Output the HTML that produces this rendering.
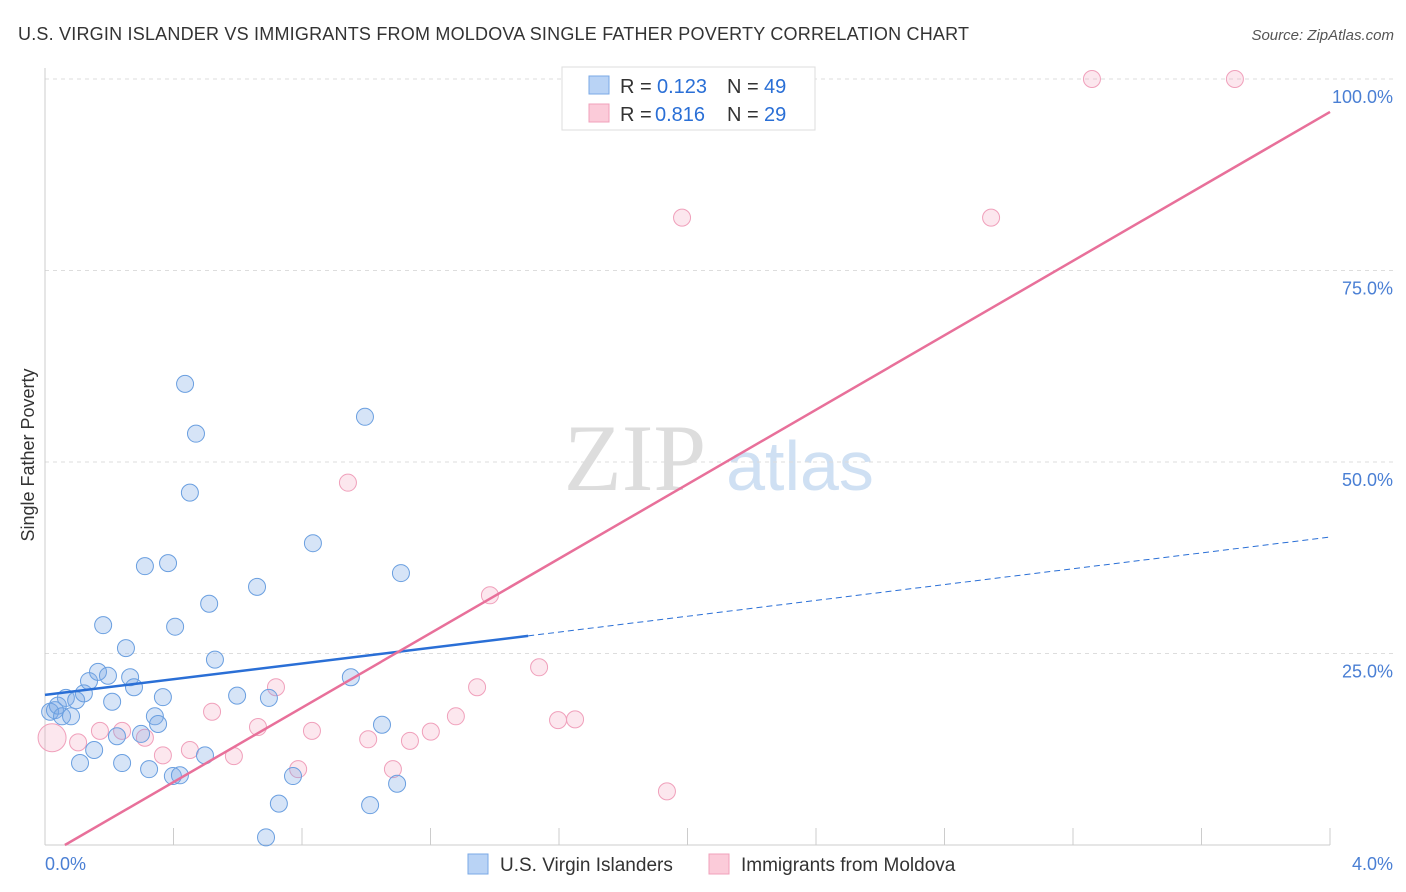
<!DOCTYPE html>
<html><head><meta charset="utf-8"><style>
body{margin:0;background:#fff;font-family:"Liberation Sans",sans-serif;}
svg{display:block}
</style></head><body>
<svg id="chart" width="1406" height="892">
<text x="18" y="40" font-size="18" fill="#333" textLength="951">U.S. VIRGIN ISLANDER VS IMMIGRANTS FROM MOLDOVA SINGLE FATHER POVERTY CORRELATION CHART</text>
<text x="1394" y="40" font-size="15" fill="#555" font-style="italic" text-anchor="end">Source: ZipAtlas.com</text>
<text x="34" y="455" font-size="18" fill="#333" text-anchor="middle" transform="rotate(-90 34 455)">Single Father Poverty</text>
<g><text x="635" y="490" font-size="95" fill="#ddd" font-family="Liberation Serif,serif" text-anchor="middle">ZIP</text><text x="800" y="490" font-size="70" fill="#cfe0f3" text-anchor="middle">atlas</text></g>
<g id="grid"></g><g id="marks"></g>
<g>
<rect x="562" y="67" width="253" height="63" fill="#fff" stroke="#ddd"/>
<rect x="589" y="76" width="20" height="18" fill="#b9d3f5" stroke="#7aa8e6"/>
<rect x="589" y="104" width="20" height="18" fill="#fbcbd9" stroke="#f0a0bb"/>
<text y="93" font-size="20" fill="#333"><tspan x="620">R =</tspan><tspan x="657" fill="#2a6fd6">0.123</tspan><tspan x="727">N =</tspan><tspan x="764" fill="#2a6fd6">49</tspan></text>
<text y="121" font-size="20" fill="#333"><tspan x="620">R =</tspan><tspan x="655" fill="#2a6fd6">0.816</tspan><tspan x="727">N =</tspan><tspan x="764" fill="#2a6fd6">29</tspan></text>
</g>
<g>
<rect x="468" y="854" width="20" height="20" fill="#b9d3f5" stroke="#7aa8e6"/>
<text x="500" y="871" font-size="19" fill="#333">U.S. Virgin Islanders</text>
<rect x="709" y="854" width="20" height="20" fill="#fbcbd9" stroke="#f0a0bb"/>
<text x="741" y="871" font-size="19" fill="#333">Immigrants from Moldova</text>
</g>
</svg>
<script>
const blueX=[0.016,0.031,0.040,0.053,0.065,0.081,0.097,0.109,0.121,0.137,0.153,0.165,0.181,0.196,0.209,0.224,0.240,0.252,0.265,0.277,0.299,0.311,0.324,0.342,0.352,0.367,0.383,0.398,0.405,0.420,0.436,0.451,0.470,0.498,0.511,0.529,0.598,0.660,0.688,0.697,0.728,0.772,0.834,0.952,0.996,1.012,1.049,1.096,1.108];
const blueY=[17.4,17.6,18.2,16.8,19.2,16.8,18.9,10.7,19.8,21.4,12.4,22.6,28.7,22.1,18.7,14.2,10.7,25.7,21.9,20.6,14.5,36.4,9.9,16.8,15.8,19.3,36.8,9.0,28.5,9.1,60.2,46.0,53.7,11.7,31.5,24.2,19.5,33.7,1.0,19.2,5.4,9.0,39.4,21.9,55.9,5.2,15.7,8.0,35.5];
const pinkX=[0.022,0.103,0.171,0.240,0.311,0.367,0.451,0.520,0.588,0.663,0.719,0.788,0.831,0.943,1.006,1.083,1.136,1.201,1.279,1.345,1.385,1.538,1.597,1.650,1.936,1.983,2.945,3.259,3.704];
const pinkY=[14.0,13.4,14.9,14.9,14.0,11.7,12.4,17.4,11.6,15.4,20.6,9.9,14.9,47.3,13.8,9.9,13.6,14.8,16.8,20.6,32.6,23.2,16.3,16.4,7.0,81.9,81.9,100,100];
const blueTrendX=[0,1.504,4];const blueTrendY=[19.6,27.3,40.2];
const pinkTrendX=[0.062,4];const pinkTrendY=[0,95.7];
const yTicks=[25,50,75,100];const yTickLabels=["25.0%","50.0%","75.0%","100.0%"];
const xTicks=[0,0.4,0.8,1.2,1.6,2.0,2.4,2.8,3.2,3.6,4.0];
const X0=45,X1=1330,Y0=845,Y1=79;
const sx=v=>X0+(v/4)*(X1-X0), sy=v=>Y0-(v/100)*(Y0-Y1);
const NS="http://www.w3.org/2000/svg";
function mk(t,a,p){const e=document.createElementNS(NS,t);for(const k in a)e.setAttribute(k,a[k]);p.appendChild(e);return e;}
const g=document.getElementById('grid'),m=document.getElementById('marks');
yTicks.forEach((v,i)=>{const l=mk('line',{x1:X0,x2:1394,y1:sy(v),y2:sy(v),stroke:'#ddd','stroke-dasharray':'4,4'},g);


const t=mk('text',{x:1393,y:sy(v)+24,'font-size':18,fill:'#4a7fd4','text-anchor':'end'},g);t.textContent=yTickLabels[i];

});
const ax=mk('line',{x1:X0,x2:X1,y1:Y0,y2:Y0,stroke:'#ccc'},g);


const ay=mk('line',{x1:X0,x2:X0,y1:68,y2:Y0,stroke:'#ccc'},g);


xTicks.forEach(v=>{const l=mk('line',{x1:sx(v),x2:sx(v),y1:Y0,y2:828,stroke:'#ccc'},g);

});
[["0.0%",X0,'start'],["4.0%",1393,'end']].forEach(d=>{const t=mk('text',{x:d[1],y:870,'font-size':18,fill:'#4a7fd4','text-anchor':d[2]},g);t.textContent=d[0];

});
pinkX.forEach((x,i)=>{const c=mk('circle',{cx:sx(x),cy:sy(pinkY[i]),r:i==0?14:8.5,fill:'rgba(244,160,188,0.25)',stroke:'#f0a0bb','stroke-width':1},m);

});
blueX.forEach((x,i)=>{const c=mk('circle',{cx:sx(x),cy:sy(blueY[i]),r:8.5,fill:'rgba(120,165,230,0.3)',stroke:'#6a9fe0','stroke-width':1},m);

});
let l1=mk('line',{x1:sx(blueTrendX[0]),y1:sy(blueTrendY[0]),x2:sx(blueTrendX[1]),y2:sy(blueTrendY[1]),stroke:'#2a6fd6','stroke-width':2.5},m);


let l2=mk('line',{x1:sx(blueTrendX[1]),y1:sy(blueTrendY[1]),x2:sx(blueTrendX[2]),y2:sy(blueTrendY[2]),stroke:'#2a6fd6','stroke-width':1,'stroke-dasharray':'6,4'},m);


let l3=mk('line',{x1:sx(pinkTrendX[0]),y1:sy(pinkTrendY[0]),x2:sx(pinkTrendX[1]),y2:sy(pinkTrendY[1]),stroke:'#e8709a','stroke-width':2.5},m);


</script>
</body></html>
